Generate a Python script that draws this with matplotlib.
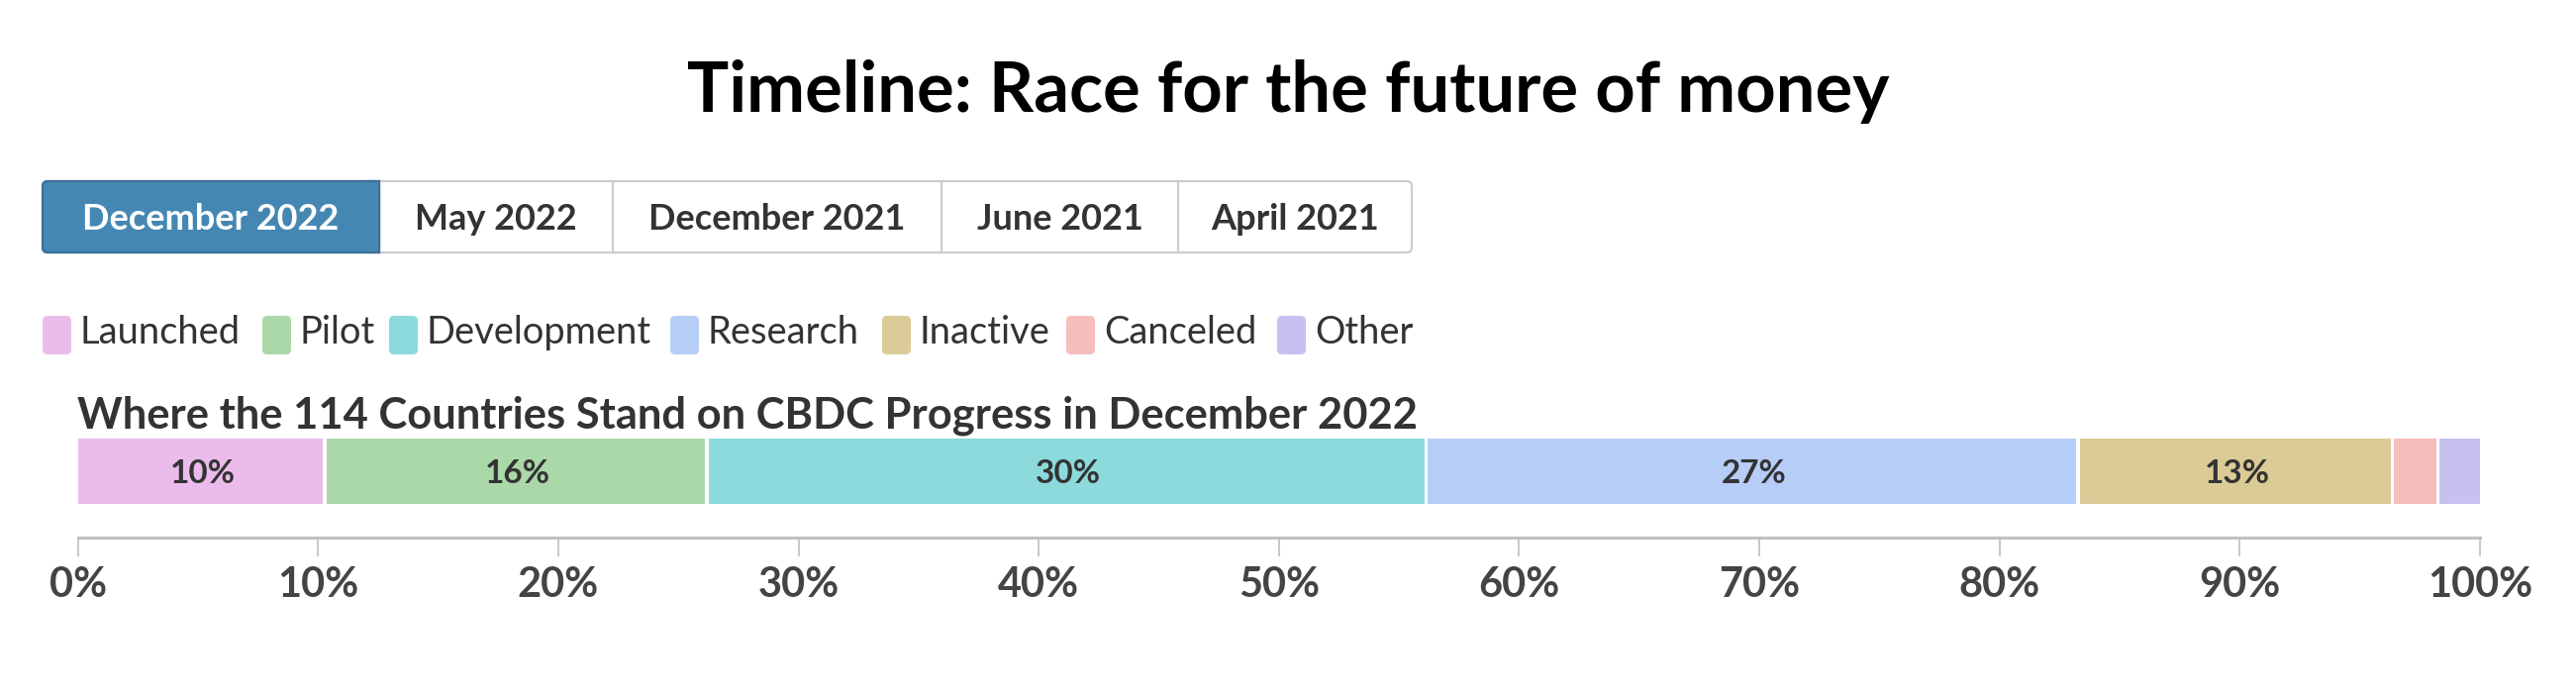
import matplotlib
matplotlib.use("Agg")
import matplotlib.pyplot as plt
from matplotlib.patches import FancyBboxPatch, Rectangle
import numpy as np

# ---------------- data ----------------
title = "Timeline: Race for the future of money"
tabs = ["December 2022", "May 2022", "December 2021", "June 2021", "April 2021"]
active_tab = 0
subtitle = "Where the 114 Countries Stand on CBDC Progress in December 2022"
categories = ["Launched", "Pilot", "Development", "Research", "Inactive", "Canceled", "Other"]
values = [10.36, 15.91, 29.93, 27.13, 13.10, 1.89, 1.68]   # percent of 114 countries
colors = ["#EBBCEB", "#ABD8A8", "#8CDADB", "#B6CDF8", "#DBCB97", "#F5BDBC", "#C9C0F2"]
tick_values = [0, 10, 20, 30, 40, 50, 60, 70, 80, 90, 100]
tick_labels = ["0%", "10%", "20%", "30%", "40%", "50%", "60%", "70%", "80%", "90%", "100%"]

# ---------------- layout (pixels) ----------------
W, H = 2602, 700
FONT = "Lato"
DARK = "#333333"

fig = plt.figure(figsize=(W / 100, H / 100), dpi=100)
fig.patch.set_facecolor("white")
renderer = fig.canvas.get_renderer()

ov = fig.add_axes([0, 0, 1, 1])
ov.set_xlim(0, W)
ov.set_ylim(H, 0)
ov.axis("off")


def fit_size(s, width_px, weight="bold"):
    t = ov.text(0, 0, s, fontsize=20, family=FONT, fontweight=weight)
    bb = t.get_window_extent(renderer)
    t.remove()
    return 20 * width_px / bb.width


# title
fs = fit_size(title, 1214)
ov.text(W / 2, 113, title, fontsize=fs, family=FONT, fontweight="bold",
        color="#000000", ha="center", va="baseline")

# tabs
tab_edges = [43, 383, 619, 951, 1190, 1426]
tab_top, tab_bot = 183, 255
ov.add_patch(FancyBboxPatch((tab_edges[0], tab_top), tab_edges[-1] - tab_edges[0], tab_bot - tab_top,
                            boxstyle="round,pad=0,rounding_size=5", fc="white", ec="#CCCCCC", lw=1.6))
for xe in tab_edges[1:-1]:
    ov.plot([xe, xe], [tab_top, tab_bot], color="#CCCCCC", lw=1.6)
a0, a1 = tab_edges[active_tab], tab_edges[active_tab + 1]
ov.add_patch(FancyBboxPatch((a0, tab_top), a1 - a0, tab_bot - tab_top,
                            boxstyle="round,pad=0,rounding_size=5", fc="#4587B3", ec="#3B7099", lw=1.6))
ov.add_patch(Rectangle((a1 - 12, tab_top), 12, tab_bot - tab_top, fc="#4587B3", ec="none"))
ov.plot([a1 - 12, a1], [tab_top, tab_top], color="#3B7099", lw=1.6)
ov.plot([a1 - 12, a1], [tab_bot, tab_bot], color="#3B7099", lw=1.6)
ov.plot([a1, a1], [tab_top, tab_bot], color="#3B7099", lw=1.6)
tab_fs = fit_size("April 2021", 170)
for i, lab in enumerate(tabs):
    cx = (tab_edges[i] + tab_edges[i + 1]) / 2
    ov.text(cx, 232, lab, fontsize=tab_fs, family=FONT, fontweight="bold",
            color="white" if i == active_tab else DARK, ha="center", va="baseline")

# legend
leg_x = [43, 265, 393, 677, 891, 1077, 1290]
leg_fs = fit_size("Canceled", 155, weight="normal")
for x0, cat, col in zip(leg_x, categories, colors):
    ov.add_patch(FancyBboxPatch((x0, 319), 29, 39, boxstyle="round,pad=0,rounding_size=5",
                                fc=col, ec="none"))
    ov.text(x0 + 38, 347, cat, fontsize=leg_fs, family=FONT, fontweight="normal",
            color=DARK, ha="left", va="baseline")

# subtitle
sub_fs = fit_size(subtitle, 1355)
ov.text(78, 433, subtitle, fontsize=sub_fs, family=FONT, fontweight="bold",
        color=DARK, ha="left", va="baseline")

# ---------------- main bar axes ----------------
x0px, x1px = 78.7, 2505
axis_y, top_y = 543, 443
ax = fig.add_axes([x0px / W, 1 - axis_y / H, (x1px - x0px) / W, (axis_y - top_y) / H])
ax.set_xlim(0, 100)
ax.set_ylim(0, 1)
ax.patch.set_alpha(0)
for s in ["top", "left", "right"]:
    ax.spines[s].set_visible(False)
ax.spines["bottom"].set_color("#C0C0C0")
ax.spines["bottom"].set_linewidth(2.2)
ax.set_yticks([])

gap = 0.15
lefts = np.concatenate([[0], np.cumsum(values)[:-1]])
widths = [v - gap if i < len(values) - 1 else v for i, v in enumerate(values)]
ax.barh(0.67, widths, left=lefts, height=0.66, color=colors, edgecolor="none")

lab_fs = fit_size("27%", 66)
for l, v in zip(lefts, values):
    if v >= 5:
        ax.text(l + v / 2, 0.55, f"{round(v)}%", fontsize=lab_fs, family=FONT,
                fontweight="bold", color=DARK, ha="center", va="baseline")

tick_fs = fit_size("100%", 107)
ax.set_xticks(tick_values)
ax.set_xticklabels(tick_labels, fontsize=tick_fs, family=FONT, fontweight="bold", color="#444444")
ax.tick_params(axis="x", direction="out", length=13.7, width=1.4, color="#C8C8C8", pad=29.5)
for t in ax.get_xticklabels():
    t.set_va("baseline")

fig.savefig("out.png", dpi=100, facecolor="white")
